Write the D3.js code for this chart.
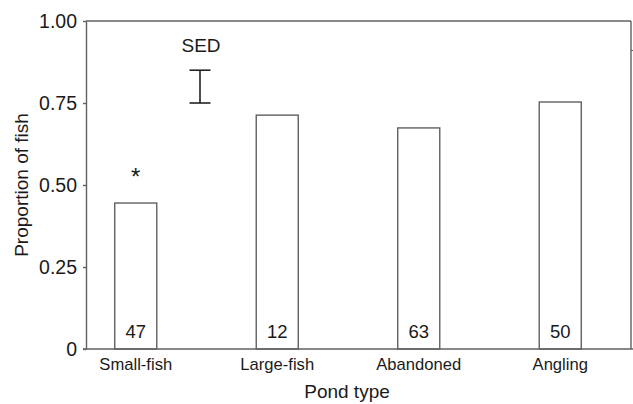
<!DOCTYPE html>
<html>
<head>
<meta charset="utf-8">
<script src="https://cdn.jsdelivr.net/npm/d3@7"></script>
<style>
  body { margin: 0; background: #fff; }
  text { font-family: "Liberation Sans", Arial, sans-serif; fill: #1a1a1a; }
</style>
</head>
<body>
<div id="chart"></div>
<script>
// data
const pondTypes = ["Small-fish", "Large-fish", "Abandoned", "Angling"];
const proportions = [0.445, 0.713, 0.674, 0.753];
const sampleSizes = [47, 12, 63, 50];
const yTicks = [0, 0.25, 0.5, 0.75, 1];
const yTickLabels = ["0", "0.25", "0.50", "0.75", "1.00"];
const sed = { low: 0.75, high: 0.85, label: "SED" };
const significant = ["Small-fish"];

const W = 633, H = 404;
const plotLeft = 86, plotRight = 631, plotTop = 21, plotBottom = 349;

const svg = d3.select("#chart")
  .append("svg")
  .attr("width", W)
  .attr("height", H);

const y = d3.scaleLinear()
  .domain([0, 1])
  .range([plotBottom, plotTop]);

const x = d3.scaleBand()
  .domain(pondTypes)
  .range([65, 631])
  .paddingInner(0.703)
  .paddingOuter(0.3515);

const lineCol = "#606060";

// frame: top and right
svg.append("line")
  .attr("x1", plotLeft).attr("x2", plotRight)
  .attr("y1", plotTop).attr("y2", plotTop)
  .attr("stroke", lineCol).attr("stroke-width", 1.4);
svg.append("line")
  .attr("x1", plotRight).attr("x2", plotRight)
  .attr("y1", plotTop).attr("y2", plotBottom)
  .attr("stroke", lineCol).attr("stroke-width", 1.4);
// small stray tick on the right
svg.append("line")
  .attr("x1", plotRight).attr("x2", 634)
  .attr("y1", 50.5).attr("y2", 50.5)
  .attr("stroke", lineCol).attr("stroke-width", 1.2);

// bars
svg.selectAll("rect.bar")
  .data(pondTypes)
  .join("rect")
  .attr("class", "bar")
  .attr("x", d => x(d))
  .attr("y", (d, i) => y(proportions[i]))
  .attr("width", x.bandwidth())
  .attr("height", (d, i) => y(0) - y(proportions[i]))
  .attr("fill", "#fff")
  .attr("stroke", lineCol)
  .attr("stroke-width", 1.4);

// sample sizes inside bars
svg.selectAll("text.n")
  .data(pondTypes)
  .join("text")
  .attr("class", "n")
  .attr("x", d => x(d) + x.bandwidth() / 2)
  .attr("y", plotBottom - 11)
  .attr("text-anchor", "middle")
  .style("font-size", "18.5px")
  .text((d, i) => sampleSizes[i]);

// y axis
const yAxis = svg.append("g")
  .attr("transform", `translate(${plotLeft},0)`)
  .call(d3.axisLeft(y)
    .tickValues(yTicks)
    .tickFormat((d, i) => yTickLabels[i])
    .tickSize(3)
    .tickSizeOuter(0));
yAxis.select(".domain").attr("stroke", lineCol).attr("stroke-width", 1.4);
yAxis.selectAll(".tick line").attr("stroke", lineCol).attr("stroke-width", 1.4);
yAxis.selectAll(".tick text")
  .attr("x", -9)
  .style("font-family", "Liberation Sans, Arial, sans-serif")
  .style("font-size", "19.5px")
  .attr("fill", "#1a1a1a");

// x axis line
svg.append("line")
  .attr("x1", plotLeft - 3).attr("x2", W)
  .attr("y1", plotBottom).attr("y2", plotBottom)
  .attr("stroke", lineCol).attr("stroke-width", 1.4);

// x labels
svg.selectAll("text.cat")
  .data(pondTypes)
  .join("text")
  .attr("class", "cat")
  .attr("x", d => x(d) + x.bandwidth() / 2)
  .attr("y", 370)
  .attr("text-anchor", "middle")
  .style("font-size", "16.6px")
  .text(d => d);

// axis titles
svg.append("text")
  .attr("x", 347)
  .attr("y", 398)
  .attr("text-anchor", "middle")
  .style("font-size", "19px")
  .text("Pond type");

svg.append("text")
  .attr("transform", `translate(28,${(plotTop + plotBottom) / 2}) rotate(-90)`)
  .attr("text-anchor", "middle")
  .style("font-size", "19px")
  .text("Proportion of fish");

// asterisk over significant bar
svg.selectAll("text.star")
  .data(significant)
  .join("text")
  .attr("class", "star")
  .attr("x", d => x(d) + x.bandwidth() / 2)
  .attr("y", 185)
  .attr("text-anchor", "middle")
  .style("font-size", "24px")
  .text("*");

// SED bar
const sedX = 200, cap = 10.5;
const sedG = svg.append("g").attr("stroke", "#222").attr("stroke-width", 1.6);
sedG.append("line")
  .attr("x1", sedX).attr("x2", sedX)
  .attr("y1", y(sed.low)).attr("y2", y(sed.high));
sedG.append("line")
  .attr("x1", sedX - cap).attr("x2", sedX + cap)
  .attr("y1", y(sed.low)).attr("y2", y(sed.low));
sedG.append("line")
  .attr("x1", sedX - cap).attr("x2", sedX + cap)
  .attr("y1", y(sed.high)).attr("y2", y(sed.high));
svg.append("text")
  .attr("x", 201)
  .attr("y", 52)
  .attr("text-anchor", "middle")
  .style("font-size", "19px")
  .text(sed.label);
</script>
</body>
</html>
